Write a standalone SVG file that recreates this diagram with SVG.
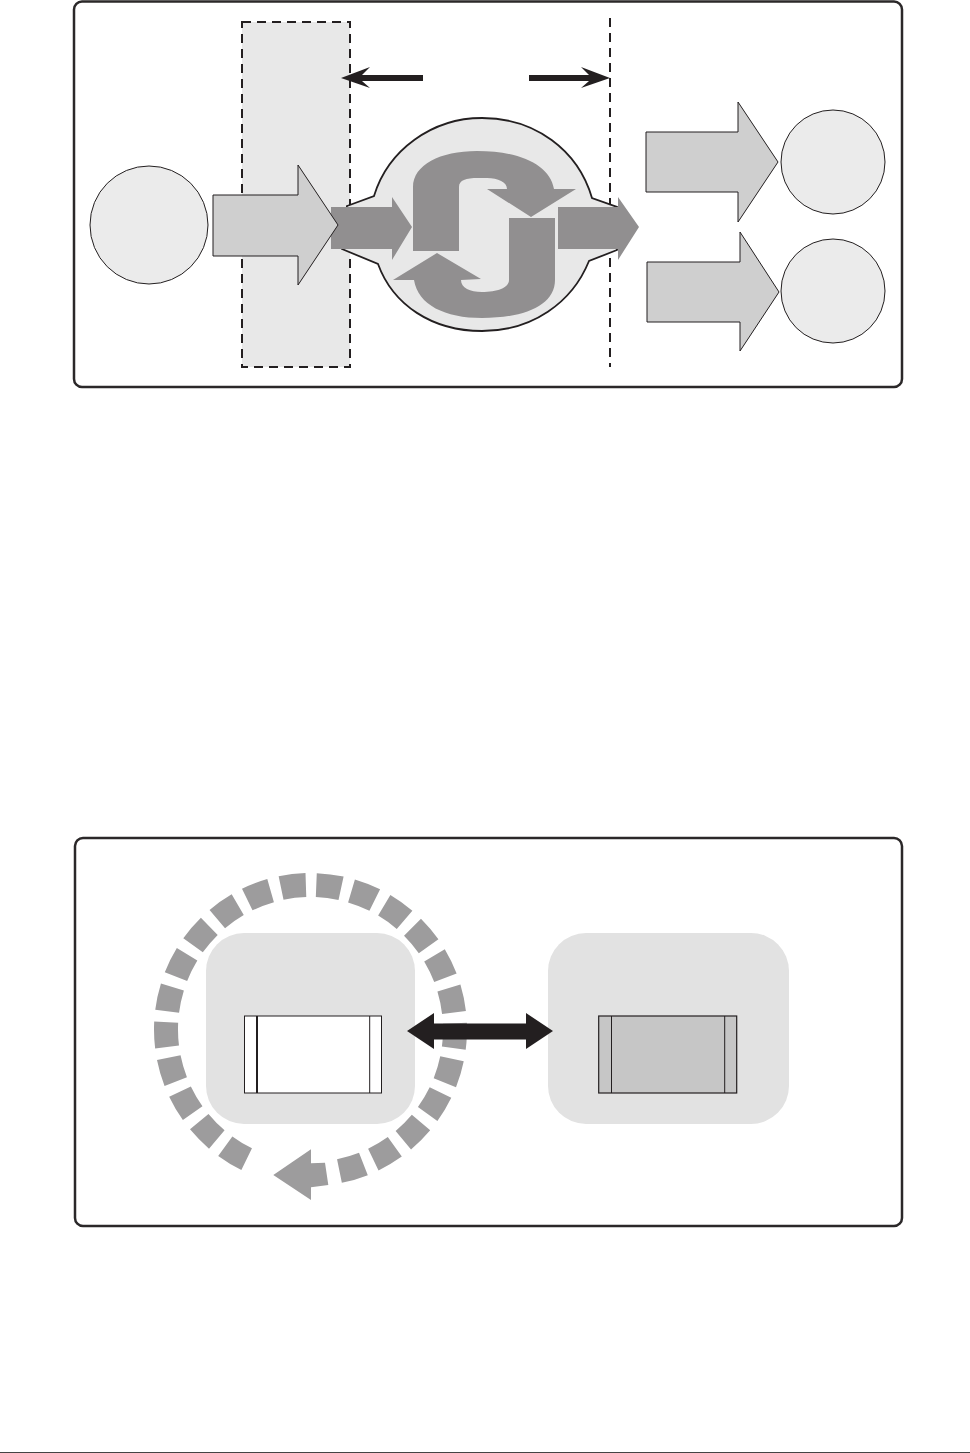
<svg xmlns="http://www.w3.org/2000/svg" width="970" height="1453" viewBox="0 0 970 1453">
<style>
.frame{fill:#fff;stroke:#2b2829;stroke-width:2.5}
.dash{stroke:#231f20;stroke-width:2;stroke-dasharray:9 6}
.node{fill:#ebebeb;stroke:#231f20;stroke-width:1}
.big{fill:#cfcfcf;stroke:#231f20;stroke-width:1}
.dark{fill:#918f90}
.blk{fill:#231f20}
.plate{fill:#e2e2e2}
.ln{stroke:#231f20;fill:none;stroke-width:1.3}
</style>
<rect width="970" height="1453" fill="#fff"/>
<g id="frame-top"><rect class="frame" x="74" y="1.5" width="828" height="385.5" rx="8"/></g>
<g id="zone-left"><rect x="242" y="22" width="108" height="345" fill="#e8e8e8" class="dash"/></g>
<g id="boundary-right"><line class="dash" x1="610" y1="18" x2="610" y2="367"/></g>
<g id="source"><circle class="node" cx="149" cy="225" r="59"/></g>
<g id="sink-top"><circle class="node" cx="833" cy="162" r="52"/></g>
<g id="sink-bottom"><circle class="node" cx="833" cy="291" r="52"/></g>
<g id="chamber">
<path d="M347 206L374 196C388 150 432 118 482 118C535 118 578 150 592 198L617 207V250L589 261C572 303 532 331 482 331C432 331 393 305 378 264L342 249Z" fill="#e8e8e8" stroke="#231f20" stroke-width="1.8"/>
</g>
<g id="connectors">
<path class="blk" d="M423 75H362L370 67L341 78L370 88L362 81H423Z"/>
<path class="blk" d="M529 75H589L581 67L610 78L581 88L589 81H529Z"/>
<polygon class="dark" points="331,207 392,207 392,197 412,227 392,260 392,249 331,249"/>
<polygon class="dark" points="558,207 618,207 618,197 639,227 618,260 618,249 558,249"/>
<path class="dark" d="M413 251V187C413 165 440 151 477 151C520 151 550 165 554 189H576L531 217L487 189H507C507 182 498 178 487 178H478C466 178 459 180 459 187V251Z"/>
<path class="dark" d="M555 218H509V280C509 288 497 292 482 292C470 292 461 288 461 280L481 279L437 253L393 280H414C418 305 445 318 482 318C525 318 555 305 555 280Z"/>
<polygon class="big" points="213,195 298,195 298,165 338,225 298,285 298,256 213,256"/>
<polygon class="big" points="646,132 738,132 738,102 778,162 738,222 738,192 646,192"/>
<polygon class="big" points="647,262 740,262 740,232 779,292 740,351 740,322 647,322"/>
</g>
<g id="frame-bottom"><rect class="frame" x="75" y="838" width="827" height="388" rx="8"/></g>
<g id="plate-left"><rect class="plate" x="206" y="933" width="209" height="191" rx="38"/></g>
<g id="plate-right"><rect class="plate" x="548" y="933" width="241" height="191" rx="38"/></g>
<g id="ring">
<circle cx="310.500" cy="1029.500" r="144.500" fill="none" stroke="#9d9c9d" stroke-width="24" transform="rotate(-87.700 310.500 1029.500)" stroke-dasharray="25 10.800 25 10.800 25 10.800 25 10.800 25 10.800 25 10.800 25 10.800 25 10.800 25 10.800 25 10.800 25 10.800 25 95.300 25 10.800 25 10.800 25 10.800 25 10.800 25 10.800 25 10.800 25 10.800 25 10.800 25 10.800 25 10.800 25 11"/>
<polygon fill="#9d9c9d" points="325,1162.700 311,1163.300 311,1149.300 273.300,1175 311,1200 311,1187.300 328.300,1185"/>
</g>
<g id="chip-left">
<rect x="244.500" y="1016" width="137" height="77" fill="#fff" stroke="#231f20" stroke-width="1"/>
<line class="ln" x1="257" y1="1016" x2="257" y2="1093" style="stroke-width:2"/>
<line class="ln" x1="369.700" y1="1016" x2="369.700" y2="1093" style="stroke-width:1"/>
</g>
<g id="chip-right">
<rect x="598.700" y="1016" width="138" height="77" fill="#c6c6c6" stroke="#231f20" stroke-width="1.200"/>
<line class="ln" x1="611.500" y1="1016" x2="611.500" y2="1093" style="stroke-width:1"/>
<line class="ln" x1="724.700" y1="1016" x2="724.700" y2="1093" style="stroke-width:1"/>
</g>
<g id="link"><polygon class="blk" points="407,1031 434,1013 434,1023.500 526,1023.500 526,1013 553,1031 526,1049 526,1039.500 434,1039.500 434,1049"/></g>
<line x1="0" y1="1452.500" x2="970" y2="1452.500" stroke="#444" stroke-width="1"/>
</svg>
